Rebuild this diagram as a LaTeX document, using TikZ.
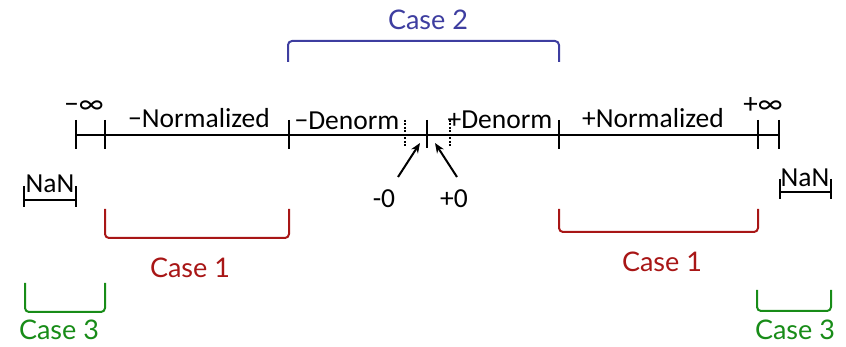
\documentclass[tikz,border=0pt]{standalone}
\usepackage{fontspec}
\setmainfont{Carlito}
\newfontfamily\casefont{Lato}
\usetikzlibrary{arrows.meta}
\definecolor{cred}{RGB}{168,22,22}
\definecolor{cblue}{RGB}{62,62,160}
\definecolor{cgreen}{RGB}{24,140,24}
\begin{document}
\begin{tikzpicture}[x=1pt,y=-1pt,
 axis/.style={line width=2.1pt},
 tickmark/.style={line width=2.1pt},
 dtick/.style={line width=1.8pt, dash pattern=on 2pt off 1.5pt},
 lbl/.style={font=\fontsize{27.5}{30}\selectfont, anchor=base, inner sep=0pt},
 inflbl/.style={font=\fontsize{29}{30}\selectfont, anchor=base, inner sep=0pt},
 brk/.style={line width=2pt, rounded corners=4pt},
 caselbl/.style={font=\casefont\fontsize{27}{30}\selectfont, anchor=base, inner sep=0pt},
 arr/.style={line width=2pt, -{Stealth[length=10pt,width=8pt]}}]
\useasboundingbox (0,0) rectangle (846,347);
% main axis
\coordinate (a0) at (76,135);
\coordinate (a1) at (779,135);
\draw[axis] (a0) -- (a1);
\foreach \x in {76,105,289,559,758,779}{\draw[tickmark] (\x,120) -- (\x,149);}
\draw[tickmark] (427,120) -- (427,148);
\draw[dtick] (405,120) -- (405,147);
\draw[dtick] (450,120) -- (450,147);
% labels on axis
\node[inflbl] (minf) at (84,114) {−∞};
\node[inflbl] (pinf) at (763,114) {+∞};
\node[lbl] (mnorm) at (199,128) {−Normalized};
\node[lbl] (mden) at (347,130) {−Denorm};
\node[lbl] (pden) at (500,129) {+Denorm};
\node[lbl] (pnorm) at (653,128) {+Normalized};
% zeros
\node[lbl] (mz) at (384,208) {-0};
\node[lbl] (pz) at (454,208) {+0};
\coordinate (mzs) at (398,177);
\coordinate (mze) at (420,143);
\coordinate (pzs) at (457,177);
\coordinate (pze) at (435,143);
\draw[arr] (mzs) -- (mze);
\draw[arr] (pzs) -- (pze);
% NaN
\node[lbl] (nanl) at (50,193) {NaN};
\draw[tickmark] (24,186) -- (24,207);
\draw[tickmark] (24,200) -- (76,200);
\draw[tickmark] (76,186) -- (76,207);
\node[lbl] (nanr) at (805,187) {NaN};
\draw[tickmark] (780,179) -- (780,199);
\draw[tickmark] (780,192) -- (831,192);
\draw[tickmark] (831,179) -- (831,199);
% Case 2
\draw[brk, cblue] (288,62) -- (288,41) -- (559,41) -- (559,62);
\node[caselbl, text=cblue] (c2) at (428,30) {Case 2};
% Case 1
\draw[brk, cred] (105,209) -- (105,238) -- (289,238) -- (289,209);
\node[caselbl, text=cred] (c1l) at (190,278) {Case 1};
\draw[brk, cred] (559,209) -- (559,232) -- (758,232) -- (758,209);
\node[caselbl, text=cred] (c1r) at (662,272) {Case 1};
% Case 3
\draw[brk, cgreen] (25,283) -- (25,312) -- (105,312) -- (105,283);
\node[caselbl, text=cgreen] (c3l) at (59,340) {Case 3};
\draw[brk, cgreen] (757,290) -- (757,311) -- (831,311) -- (831,290);
\node[caselbl, text=cgreen] (c3r) at (795,340) {Case 3};
\end{tikzpicture}
\end{document}
